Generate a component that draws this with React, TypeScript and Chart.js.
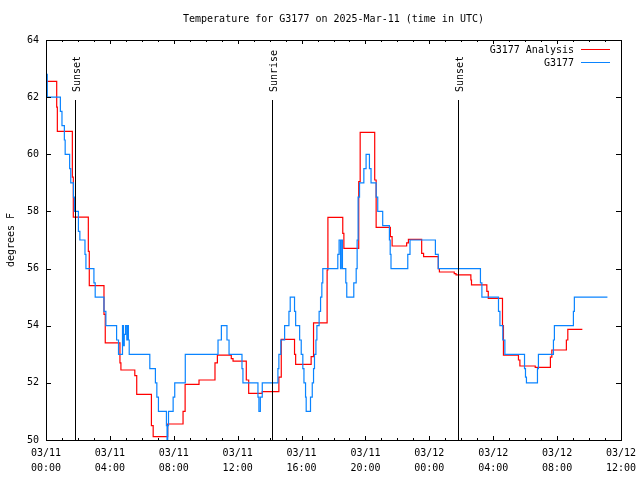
import React, { useEffect, useRef } from "react";
import { Chart, registerables } from "chart.js";

Chart.register(...registerables);

const FONT = "'DejaVu Sans Mono', 'Liberation Mono', monospace";
const TITLE = "Temperature for G3177 on 2025-Mar-11 (time in UTC)";
const Y_LABEL = "degrees F";

const X_TICK_HOURS = [0, 4, 8, 12, 16, 20, 24, 28, 32, 36];
const X_TICK_LABELS = [
  ["03/11", "00:00"], ["03/11", "04:00"], ["03/11", "08:00"], ["03/11", "12:00"],
  ["03/11", "16:00"], ["03/11", "20:00"], ["03/12", "00:00"], ["03/12", "04:00"],
  ["03/12", "08:00"], ["03/12", "12:00"],
];
const Y_MIN = 50;
const Y_MAX = 64;
const Y_STEP = 2;

const SERIES_NAMES = ["G3177 Analysis", "G3177"];
const SERIES_COLORS = ["#ff0000", "#0a84ff"];

// hours since 03/11 00:00 UTC; each value holds until the next time
const ANALYSIS_T = [
  0.0, 0.67, 0.71, 1.65, 1.71, 2.65, 2.71, 3.63, 3.71, 4.63, 4.69, 5.56, 5.68, 6.6, 6.71,
  7.62, 8.58, 8.71, 9.58, 10.58, 10.73, 11.6, 11.71, 12.54, 12.69, 13.54, 14.58, 14.73,
  15.56, 15.63, 16.6, 16.75, 17.6, 17.65, 18.58, 18.65, 19.58, 19.67, 20.58, 20.67,
  21.56, 21.67, 22.58, 22.69, 23.52, 23.64, 24.56, 24.63, 25.56, 25.67, 26.6, 26.64,
  27.6, 27.69, 28.58, 28.64, 29.58, 29.67, 30.63, 31.58, 31.67, 32.58, 32.67, 33.58,
];
const ANALYSIS_V = [
  62.55, 61.65, 60.8, 59.2, 57.8, 56.6, 55.4, 54.4, 53.4, 52.7, 52.45, 52.25, 51.6, 50.5, 50.12,
  50.56, 51.0, 51.95, 52.1, 52.7, 52.97, 52.85, 52.76, 52.1, 51.63, 51.69, 52.2, 53.52,
  53.0, 52.65, 52.92, 54.1, 55.95, 57.79, 57.23, 56.71, 59.04, 60.77, 59.1, 57.44,
  57.12, 56.79, 56.9, 57.02, 56.53, 56.42, 56.0, 55.88, 55.82, 55.78, 55.6, 55.43,
  55.2, 54.96, 54.0, 52.97, 52.8, 52.59, 52.54, 52.9, 53.15, 53.5, 53.87, 53.87,
];

const OBS_T = [
  0.0, 0.08, 0.9, 1.0, 1.15, 1.2, 1.48, 1.55, 1.72, 1.78, 2.03, 2.12, 2.44, 2.5, 3.0, 3.08,
  3.63, 3.75, 4.42, 4.54, 4.79, 4.85, 4.9, 4.98, 5.06, 5.1, 5.16, 5.21, 6.5, 6.85, 6.94,
  7.04, 7.54, 7.58, 7.62, 7.67, 7.96, 8.06, 8.72, 10.77, 10.98, 11.33, 11.46, 12.27, 12.33,
  13.27, 13.33, 13.42, 13.54, 14.52, 14.58, 14.7, 14.94, 15.21, 15.29, 15.56, 15.63,
  15.88, 15.98, 16.08, 16.15, 16.25, 16.29, 16.56, 16.67, 16.75, 16.81, 16.9, 16.96,
  17.1, 17.19, 17.27, 17.33, 18.27, 18.35, 18.44, 18.48, 18.56, 18.77, 18.83, 19.27,
  19.42, 19.48, 19.54, 19.63, 19.9, 20.04, 20.25, 20.35, 20.67, 20.77, 21.08, 21.5,
  21.55, 21.6, 22.65, 22.79, 24.38, 24.56, 27.2, 27.29, 28.33, 28.42, 28.6, 28.73,
  29.96, 30.02, 30.08, 30.77, 30.83, 31.77, 31.83, 33.02, 33.08, 35.15,
];
const OBS_V = [
  62.8, 62.0, 61.5, 61.0, 60.5, 60.0, 59.5, 59.0, 58.5, 58.0, 57.3, 57.0, 56.5, 56.0, 55.5, 55.0,
  54.5, 54.0, 53.5, 53.0, 54.0, 53.3, 53.7, 54.0, 53.5, 54.0, 53.5, 53.0, 52.5, 52.0, 51.5,
  51.0, 50.5, 50.0, 50.5, 51.0, 51.5, 52.0, 53.0, 53.5, 54.0, 53.5, 53.0, 52.5, 52.0,
  51.5, 51.0, 51.5, 52.0, 52.5, 53.0, 53.5, 54.0, 54.5, 55.0, 54.5, 54.0,
  53.5, 53.0, 52.5, 52.0, 51.5, 51.0, 51.5, 52.0, 52.5, 53.0, 53.5, 54.0,
  54.5, 55.0, 55.5, 56.0, 56.5, 57.0, 56.0, 57.0, 56.0, 55.5, 55.0, 55.5,
  56.0, 57.0, 58.5, 59.0, 59.5, 60.0, 59.5, 59.0, 58.5, 58.0, 57.5, 57.0,
  56.5, 56.0, 56.5, 57.0, 56.5, 56.0, 55.5, 55.0, 54.5, 54.0, 53.5, 53.0,
  52.5, 52.2, 52.0, 52.5, 53.0, 53.5, 54.0, 54.5, 55.0, 55.0,
];

const SUN_LABELS = ["Sunset", "Sunrise", "Sunset"];
const SUN_T = [1.81, 14.12, 25.82];
const SUN_LINE_TOP = 0.85; // fraction of plot height
const SUN_LABEL_START = 0.87;

const decorPlugin = {
  id: "decor",
  afterDraw(chart: any) {
    const ctx = chart.ctx;
    const { left, right, top, bottom } = chart.chartArea;
    const xs = chart.scales.x;
    const ys = chart.scales.y;
    ctx.save();
    ctx.strokeStyle = "#000";
    ctx.fillStyle = "#000";
    ctx.lineWidth = 1;

    // sun event lines
    const h = bottom - top;
    SUN_T.forEach((t, i) => {
      const x = Math.round(xs.getPixelForValue(t)) + 0.5;
      const yTop = bottom - SUN_LINE_TOP * h;
      ctx.beginPath();
      ctx.moveTo(x, bottom);
      ctx.lineTo(x, yTop);
      ctx.stroke();
      ctx.save();
      ctx.translate(x + 1.5, bottom - SUN_LABEL_START * h);
      ctx.rotate(-Math.PI / 2);
      ctx.font = `10px ${FONT}`;
      ctx.textAlign = "left";
      ctx.textBaseline = "middle";
      ctx.fillText(SUN_LABELS[i], 0, 0);
      ctx.restore();
    });

    // border
    ctx.strokeRect(Math.round(left) + 0.5, Math.round(top) + 0.5, Math.round(right - left), Math.round(bottom - top));

    // x ticks (inward, top and bottom)
    for (let hr = xs.min; hr <= xs.max; hr += 1) {
      const x = Math.round(xs.getPixelForValue(hr)) + 0.5;
      const len = hr % 4 === 0 ? 4 : 2;
      ctx.beginPath();
      ctx.moveTo(x, bottom);
      ctx.lineTo(x, bottom - len);
      ctx.moveTo(x, top);
      ctx.lineTo(x, top + len);
      ctx.stroke();
    }
    // y ticks (inward, left and right)
    for (let v = Y_MIN; v <= Y_MAX; v += Y_STEP) {
      const y = Math.round(ys.getPixelForValue(v)) + 0.5;
      ctx.beginPath();
      ctx.moveTo(left, y);
      ctx.lineTo(left + 5, y);
      ctx.moveTo(right, y);
      ctx.lineTo(right - 5, y);
      ctx.stroke();
    }

    // title
    ctx.font = `10px ${FONT}`;
    ctx.textAlign = "center";
    ctx.textBaseline = "middle";
    ctx.fillText(TITLE, (left + right) / 2, 19);

    // legend
    chart.data.datasets.forEach((ds: any, i: number) => {
      const y = 50 + i * 13;
      ctx.textAlign = "right";
      ctx.fillStyle = "#000";
      ctx.fillText(ds.label, 574, y);
      ctx.strokeStyle = ds.borderColor;
      ctx.beginPath();
      ctx.moveTo(581, Math.round(y) - 0.5);
      ctx.lineTo(610, Math.round(y) - 0.5);
      ctx.stroke();
    });
    ctx.restore();
  },
};

export default function App() {
  const ref = useRef<HTMLCanvasElement | null>(null);
  useEffect(() => {
    document.body.style.margin = "0";
    const canvas = ref.current;
    if (!canvas) return;
    const chart = new Chart(canvas, {
      type: "line",
      data: {
        datasets: [
          {
            label: SERIES_NAMES[0],
            data: ANALYSIS_T.map((t, i) => ({ x: t, y: ANALYSIS_V[i] })),
            borderColor: SERIES_COLORS[0],
            backgroundColor: SERIES_COLORS[0],
            borderWidth: 1.2,
            pointRadius: 0,
            stepped: true,
            fill: false,
            order: 1,
          },
          {
            label: SERIES_NAMES[1],
            data: OBS_T.map((t, i) => ({ x: t, y: OBS_V[i] })),
            borderColor: SERIES_COLORS[1],
            backgroundColor: SERIES_COLORS[1],
            borderWidth: 1.2,
            pointRadius: 0,
            stepped: true,
            fill: false,
            order: 0,
          },
        ],
      },
      options: {
        animation: false,
        responsive: false,
        maintainAspectRatio: false,
        layout: { padding: { top: 40, right: 19, left: 0, bottom: 0 } },
        plugins: {
          legend: { display: false },
          title: { display: false },
          tooltip: { enabled: false },
        },
        scales: {
          x: {
            type: "linear",
            min: X_TICK_HOURS[0],
            max: X_TICK_HOURS[X_TICK_HOURS.length - 1],
            grid: { display: false, drawTicks: false },
            border: { display: false },
            ticks: {
              stepSize: 4,
              autoSkip: false,
              maxRotation: 0,
              minRotation: 0,
              padding: 6,
              color: "#000",
              font: { family: FONT, size: 10, lineHeight: 1.5 },
              callback: (value: any) => {
                const i = X_TICK_HOURS.indexOf(Number(value));
                return i >= 0 ? X_TICK_LABELS[i] : "";
              },
            },
            afterFit: (scale: any) => {
              scale.height = 40;
              scale.paddingLeft = 0;
              scale.paddingRight = 0;
            },
          },
          y: {
            min: Y_MIN,
            max: Y_MAX,
            grid: { display: false, drawTicks: false },
            border: { display: false },
            ticks: {
              stepSize: Y_STEP,
              padding: 7,
              color: "#000",
              font: { family: FONT, size: 10 },
              callback: (value: any) => String(value),
            },
            title: {
              display: true,
              text: Y_LABEL,
              color: "#000",
              font: { family: FONT, size: 10 },
              padding: { top: 5, bottom: 0 },
            },
            afterFit: (scale: any) => {
              scale.width = 46;
              scale.paddingTop = 0;
              scale.paddingBottom = 0;
            },
          },
        },
      },
      plugins: [decorPlugin],
    });
    return () => chart.destroy();
  }, []);

  return (
    <div style={{ position: "absolute", left: 0, top: 0, width: 640, height: 480, background: "#fff" }}>
      <canvas ref={ref} width={640} height={480} />
    </div>
  );
}
